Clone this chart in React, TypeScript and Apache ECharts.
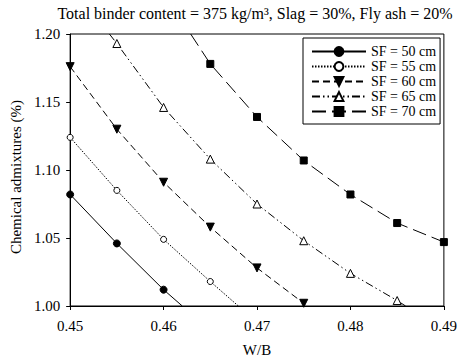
import React, { useEffect, useRef } from "react";
import * as echarts from "echarts";

const titleText = "Total binder content = 375 kg/m³, Slag = 30%, Fly ash = 20%";
const xName = "W/B";
const yName = "Chemical admixtures (%)";
const seriesNames = ["SF = 50 cm", "SF = 55 cm", "SF = 60 cm", "SF = 65 cm", "SF = 70 cm"];

// measured points [W/B, admixture %]
const sf50 = [[0.45, 1.082], [0.455, 1.046], [0.46, 1.012]];
const sf55 = [[0.45, 1.124], [0.455, 1.085], [0.46, 1.049], [0.465, 1.018]];
const sf60 = [[0.45, 1.176], [0.455, 1.13], [0.46, 1.091], [0.465, 1.058], [0.47, 1.028], [0.475, 1.002]];
const sf65 = [[0.455, 1.193], [0.46, 1.146], [0.465, 1.108], [0.47, 1.075], [0.475, 1.048], [0.48, 1.024], [0.485, 1.004]];
const sf70 = [[0.465, 1.178], [0.47, 1.139], [0.475, 1.107], [0.48, 1.082], [0.485, 1.061], [0.49, 1.047]];

// where the curves leave the plotting frame (no marker)
const sf50Tail = [0.462, 1.0];
const sf55Tail = [0.468, 1.0];
const sf65Head = [0.4542, 1.2];
const sf65Tail = [0.4859, 1.0];
const sf70Head = [0.4629, 1.2];

const FONT = "Liberation Serif";

export default function App() {
  const ref = useRef<HTMLDivElement>(null);
  useEffect(() => {
    document.body.style.margin = "0";
    const chart = echarts.init(ref.current!, null, { renderer: "svg" });
    const edge = (p: number[]) => ({ value: p, symbol: "none" });
    const pts = (a: number[][]) => a.map((p) => ({ value: p }));
    const base = (name: string, data: any[], symbol: string, size: number, open: boolean, dash: any, rotate = 0) => ({
      name,
      type: "line",
      data,
      symbol,
      symbolSize: size,
      symbolRotate: rotate,
      showAllSymbol: true,
      clip: true,
      lineStyle: { color: "#000", width: 1, type: dash },
      itemStyle: { color: open ? "#fff" : "#000", borderColor: "#000", borderWidth: 1 },
      emphasis: { disabled: true },
    });
    chart.setOption({
      animation: false,
      backgroundColor: "#fff",
      textStyle: { fontFamily: FONT },
      title: {
        text: titleText,
        left: 255,
        textAlign: "center",
        top: 5,
        padding: 0,
        textStyle: { fontFamily: FONT, fontSize: 16, fontWeight: "normal", color: "#000" },
      },
      legend: {
        left: 303,
        top: 38,
        orient: "vertical",
        backgroundColor: "#fff",
        borderColor: "#000",
        borderWidth: 1,
        borderRadius: 0,
        padding: [6, 4, 5, 8],
        itemWidth: 54,
        itemHeight: 11,
        itemGap: 0,
        textStyle: { fontFamily: FONT, fontSize: 14, lineHeight: 15, color: "#000" },
        data: seriesNames,
      },
      grid: { left: 70, right: 13, top: 34, bottom: 56, show: true, borderColor: "#000", borderWidth: 1 },
      xAxis: {
        type: "value",
        min: 0.45,
        max: 0.49,
        interval: 0.01,
        name: xName,
        nameLocation: "middle",
        nameGap: 36,
        nameTextStyle: { fontFamily: FONT, fontSize: 15, color: "#000" },
        axisLine: { show: true, lineStyle: { color: "#000", width: 1 } },
        axisTick: { show: true, length: 4, inside: false, lineStyle: { color: "#000" } },
        axisLabel: { fontFamily: FONT, fontSize: 15, color: "#000", margin: 12, formatter: (v: number) => v.toFixed(2) },
        splitLine: { show: false },
      },
      yAxis: {
        type: "value",
        min: 1.0,
        max: 1.2,
        interval: 0.05,
        name: yName,
        nameLocation: "middle",
        nameGap: 46,
        nameTextStyle: { fontFamily: FONT, fontSize: 15, color: "#000", padding: [0, 14, 0, 0] },
        axisLine: { show: true, lineStyle: { color: "#000", width: 1 } },
        axisTick: { show: true, length: 4, inside: false, lineStyle: { color: "#000" } },
        axisLabel: { fontFamily: FONT, fontSize: 15, color: "#000", margin: 10, formatter: (v: number) => v.toFixed(2) },
        splitLine: { show: false },
      },
      series: [
        base(seriesNames[0], [...pts(sf50), edge(sf50Tail)], "circle", 7, false, "solid"),
        base(seriesNames[1], [...pts(sf55), edge(sf55Tail)], "circle", 6, true, [1.5, 1.5]),
        base(seriesNames[2], pts(sf60), "triangle", 8, false, [7, 4], 180),
        base(seriesNames[3], [edge(sf65Head), ...pts(sf65), edge(sf65Tail)], "triangle", 8, true, [8, 3, 1.5, 3, 1.5, 3]),
        base(seriesNames[4], [edge(sf70Head), ...pts(sf70)], "rect", 7, false, [14, 6]),
      ],
    });
    return () => chart.dispose();
  }, []);
  return <div ref={ref} style={{ width: 460, height: 362 }} />;
}
